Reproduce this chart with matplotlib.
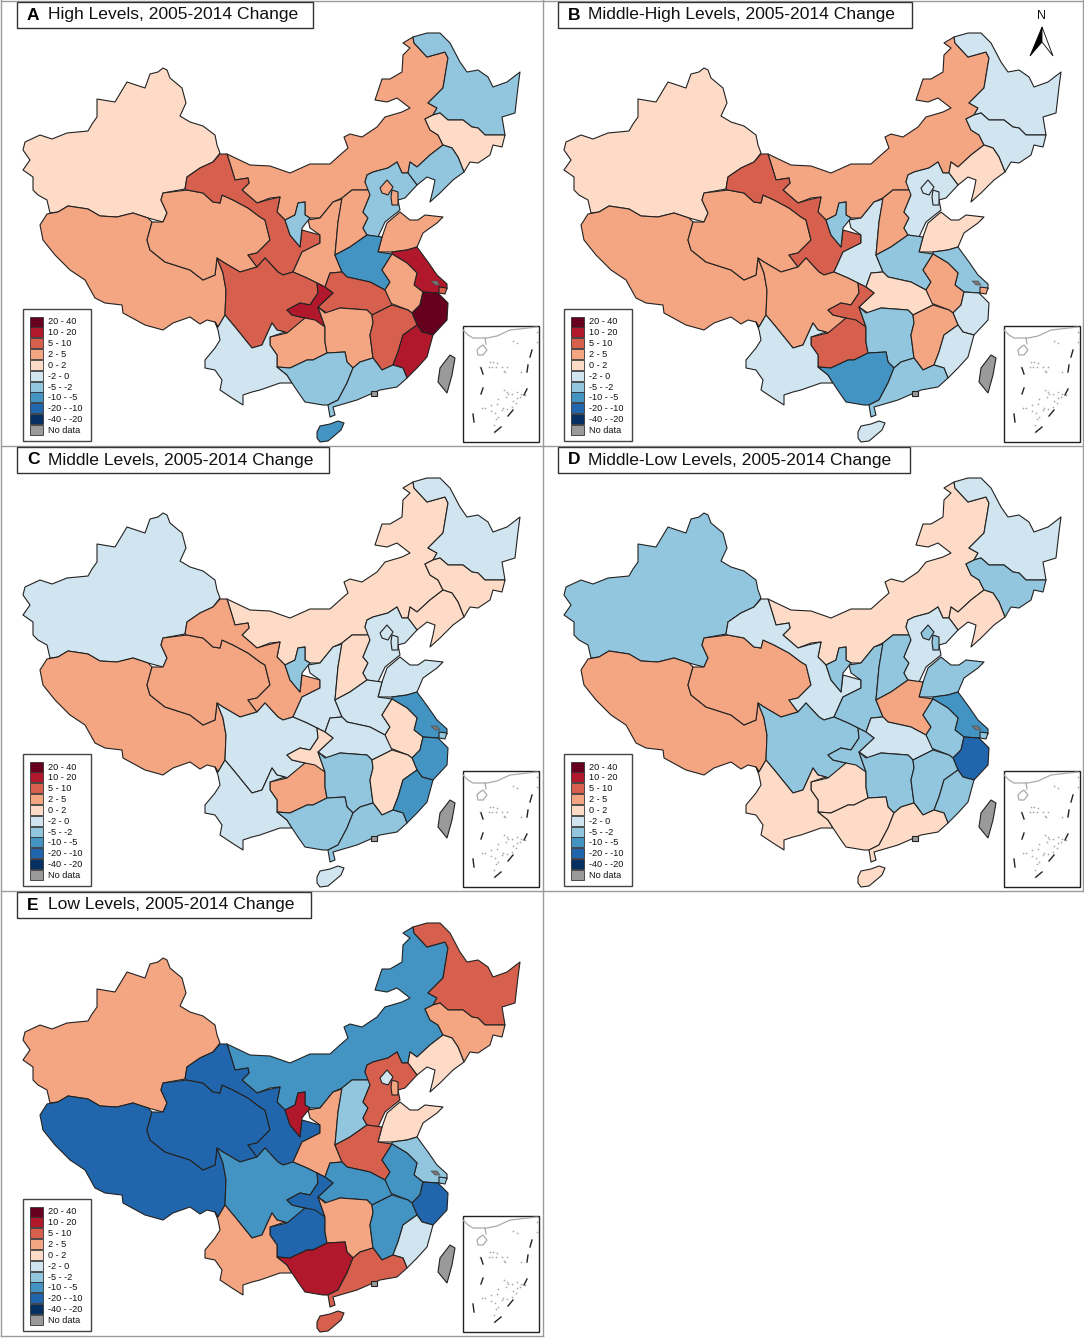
# -*- coding: utf-8 -*-
import matplotlib
matplotlib.use("Agg")

import numpy as np
import matplotlib.pyplot as plt

plt.rcParams['font.family'] = ['Liberation Sans', 'DejaVu Sans']

# Province outlines in pixels of panel A
xinjiang = [(163,68),(167,70),(170,78),(176,83),(182,88),(186,103),(180,116),(190,122),(203,126),(215,135),(217,145),(220,153),(213,162),(200,168),(187,177),(185,189),(163,193),(161,200),(167,213),(163,222),(148,218),(133,213),(117,217),(100,216),(88,209),(68,206),(58,212),(50,213),(47,200),(38,195),(33,190),(33,177),(23,170),(30,160),(23,150),(25,142),(40,135),(52,139),(67,133),(88,131),(92,124),(97,117),(97,99),(115,102),(127,82),(145,88),(150,74),(158,72)]
tibet = [(47,214),(58,212),(68,206),(88,209),(100,216),(117,217),(133,213),(148,218),(152,222),(147,240),(150,250),(165,262),(190,270),(203,280),(215,275),(217,258),(223,273),(226,290),(225,315),(218,327),(215,322),(207,320),(200,324),(190,317),(173,323),(163,330),(145,325),(123,313),(122,305),(105,303),(95,298),(85,280),(70,270),(55,255),(43,240),(40,225)]
qinghai = [(161,200),(163,193),(187,190),(203,193),(213,202),(220,203),(222,195),(233,200),(248,208),(260,217),(265,220),(270,240),(257,253),(248,255),(257,267),(240,272),(223,262),(217,258),(215,275),(203,280),(190,270),(165,262),(150,250),(147,240),(152,222),(163,222),(167,213)]
gansu = [(220,154),(227,154),(232,170),(235,180),(248,178),(249,183),(242,190),(257,203),(267,200),(280,197),(277,212),(285,220),(290,235),(300,247),(302,230),(320,235),(320,243),(302,252),(293,272),(283,275),(278,272),(265,258),(257,267),(248,255),(257,253),(270,240),(265,220),(260,217),(248,208),(233,200),(222,195),(220,203),(213,202),(203,193),(187,190),(185,189),(187,177),(200,168),(213,162)]
neimenggu = [(227,154),(250,165),(270,166),(290,173),(310,164),(330,164),(340,155),(348,148),(344,137),(350,134),(362,137),(377,127),(385,117),(402,112),(410,108),(397,98),(387,102),(375,100),(382,79),(390,79),(402,72),(403,55),(410,48),(403,43),(413,37),(414,43),(427,57),(445,52),(448,58),(443,88),(428,103),(437,108),(433,115),(425,119),(430,130),(438,135),(443,145),(430,155),(417,167),(410,162),(408,173),(402,173),(397,162),(388,168),(373,172),(367,175),(365,182),(370,190),(352,190),(342,198),(333,202),(320,218),(310,218),(305,215),(305,202),(298,203),(295,215),(285,220),(277,212),(280,197),(270,198),(257,203),(242,190),(249,183),(248,178),(235,180),(232,170)]
heilongjiang = [(413,37),(427,33),(440,33),(450,43),(460,62),(467,72),(478,70),(488,77),(493,87),(507,82),(520,72),(518,87),(515,113),(502,117),(505,135),(485,135),(478,128),(472,127),(463,120),(448,120),(440,113),(433,115),(437,108),(428,103),(443,88),(448,58),(445,52),(427,57),(414,43)]
jilin = [(433,115),(440,113),(448,120),(463,120),(472,127),(478,128),(485,135),(505,135),(502,147),(493,145),(490,155),(478,163),(470,162),(464,172),(458,157),(452,148),(443,145),(438,135),(430,130),(425,119)]
liaoning = [(443,145),(452,148),(458,157),(464,172),(453,180),(440,193),(430,202),(433,190),(435,180),(427,177),(417,185),(408,173),(410,162),(417,167),(430,155)]
hebei = [(367,175),(373,172),(388,168),(397,162),(402,173),(408,173),(417,185),(405,198),(398,200),(400,210),(385,222),(378,237),(367,235),(363,228),(368,218),(363,212),(370,195),(365,182)]
beijing = [(387,180),(393,187),(388,195),(382,193),(380,188)]
tianjin = [(392,190),(398,192),(398,205),(392,205),(391,197)]
shanxi = [(352,190),(370,190),(370,195),(363,212),(368,218),(363,228),(367,235),(350,247),(335,255),(338,222),(342,198)]
shaanxi = [(342,199),(333,202),(320,218),(308,220),(310,228),(320,235),(320,243),(302,252),(293,272),(307,278),(317,283),(325,287),(330,273),(342,272),(335,255),(338,222)]
ningxia = [(298,203),(305,202),(305,215),(310,218),(302,228),(300,247),(290,235),(285,220),(295,215)]
shandong = [(378,252),(382,237),(387,223),(400,212),(410,220),(418,220),(425,215),(443,217),(437,223),(423,233),(417,247),(407,250),(392,252)]
henan = [(335,255),(350,247),(367,235),(382,237),(378,252),(392,254),(382,270),(390,282),(385,290),(370,282),(347,277),(342,272)]
jiangsu = [(392,252),(407,250),(417,247),(428,262),(437,275),(447,284),(447,289),(438,293),(423,292),(414,285),(417,273),(407,263),(392,254)]
shanghai = [(439,287),(447,288),(445,294),(439,293)]
taihu = [(431,281),(437,281),(440,285),(435,285)]
zhejiang = [(423,292),(438,293),(448,303),(447,320),(433,335),(422,332),(417,325),(412,313),(420,305)]
anhui = [(392,254),(407,263),(417,273),(414,285),(423,292),(420,305),(412,313),(408,310),(390,303),(385,290),(390,282),(382,270)]
hubei = [(330,273),(342,272),(347,277),(370,282),(385,290),(392,305),(372,315),(367,310),(340,308),(327,313),(318,307),(333,293),(325,287)]
chongqing = [(317,283),(325,287),(333,293),(318,307),(325,327),(305,318),(292,315),(287,310),(300,303),(310,305),(318,293)]
sichuan = [(217,258),(223,262),(240,272),(257,267),(265,258),(278,272),(283,275),(293,272),(307,278),(317,283),(318,293),(310,305),(300,303),(287,310),(292,315),(305,318),(297,327),(287,333),(285,332),(277,330),(272,323),(262,345),(252,348),(235,327),(225,315),(226,290),(223,273)]
guizhou = [(270,345),(270,337),(287,333),(293,328),(305,318),(315,320),(325,327),(325,342),(327,353),(313,360),(307,360),(290,368),(277,367),(277,355)]
hunan = [(325,313),(340,308),(367,310),(372,315),(373,323),(370,335),(373,358),(360,362),(353,368),(347,362),(345,352),(327,353),(325,342),(325,327),(318,307)]
jiangxi = [(372,315),(392,305),(408,310),(412,313),(417,325),(403,335),(398,352),(393,365),(382,370),(377,363),(373,358),(370,335),(373,323)]
fujian = [(417,325),(422,332),(433,335),(427,357),(417,368),(407,378),(403,368),(393,365),(398,352),(403,335)]
guangdong = [(353,368),(360,362),(373,358),(382,370),(393,365),(403,368),(407,378),(397,387),(380,390),(357,400),(333,407),(335,415),(330,417),(328,405),(338,400),(347,383)]
guangxi = [(277,367),(290,368),(307,360),(313,360),(327,353),(345,352),(347,362),(353,368),(347,383),(338,400),(328,405),(323,405),(305,402),(298,392),(292,383),(287,375)]
yunnan = [(215,322),(218,327),(225,315),(235,327),(252,348),(262,345),(272,323),(277,330),(285,332),(270,337),(270,345),(277,355),(277,367),(287,375),(292,383),(280,383),(260,390),(252,392),(243,395),(243,405),(232,398),(220,390),(222,380),(215,370),(205,368),(205,360),(215,348),(220,340),(218,330)]
hainan = [(317,432),(320,426),(330,424),(338,421),(344,423),(341,430),(334,436),(328,441),(320,442),(317,438)]
taiwan = [(450,355),(455,358),(452,375),(447,393),(438,382),(440,368)]
macau = [(371,391),(377,391),(377,396),(371,396)]

provinces = {
    "xinjiang": xinjiang, "tibet": tibet, "qinghai": qinghai, "neimenggu": neimenggu,
    "gansu": gansu, "heilongjiang": heilongjiang, "jilin": jilin, "liaoning": liaoning,
    "shaanxi": shaanxi, "ningxia": ningxia, "shanxi": shanxi, "hebei": hebei,
    "beijing": beijing, "tianjin": tianjin, "shandong": shandong, "henan": henan,
    "jiangsu": jiangsu, "anhui": anhui, "zhejiang": zhejiang, "shanghai": shanghai,
    "hubei": hubei, "sichuan": sichuan, "chongqing": chongqing, "guizhou": guizhou,
    "hunan": hunan, "jiangxi": jiangxi, "fujian": fujian, "yunnan": yunnan,
    "guangxi": guangxi, "guangdong": guangdong, "hainan": hainan,
}

# Legend classes, top to bottom
classes = ["20 - 40", "10 - 20", "5 - 10", "2 - 5", "0 - 2", "-2 - 0", "-5 - -2",
           "-10 - -5", "-20 - -10", "-40 - -20", "No data"]
colors = ["#67001f", "#b2182b", "#d6604d", "#f4a582", "#fddbc7", "#d1e5f0", "#92c5de",
          "#4393c3", "#2166ac", "#053061", "#9a9a9a"]

# Class of each province per panel
panel_a = {"xinjiang": "0 - 2", "tibet": "2 - 5", "qinghai": "2 - 5", "neimenggu": "2 - 5", "gansu": "5 - 10",
           "heilongjiang": "-5 - -2", "jilin": "0 - 2", "liaoning": "-5 - -2", "shaanxi": "2 - 5", "ningxia": "-5 - -2",
           "shanxi": "2 - 5", "hebei": "-5 - -2", "beijing": "2 - 5", "tianjin": "2 - 5", "shandong": "2 - 5",
           "henan": "-10 - -5", "jiangsu": "10 - 20", "anhui": "2 - 5", "zhejiang": "20 - 40", "shanghai": "5 - 10",
           "hubei": "5 - 10", "sichuan": "5 - 10", "chongqing": "10 - 20", "guizhou": "2 - 5", "hunan": "2 - 5",
           "jiangxi": "5 - 10", "fujian": "10 - 20", "yunnan": "-2 - 0", "guangxi": "-5 - -2", "guangdong": "-5 - -2",
           "hainan": "-10 - -5"}
panel_b = {"xinjiang": "0 - 2", "tibet": "2 - 5", "qinghai": "2 - 5", "neimenggu": "2 - 5", "gansu": "5 - 10",
           "heilongjiang": "-2 - 0", "jilin": "-2 - 0", "liaoning": "0 - 2", "shaanxi": "-2 - 0", "ningxia": "-5 - -2",
           "shanxi": "2 - 5", "hebei": "-2 - 0", "beijing": "-2 - 0", "tianjin": "-2 - 0", "shandong": "0 - 2",
           "henan": "-5 - -2", "jiangsu": "-5 - -2", "anhui": "2 - 5", "zhejiang": "-2 - 0", "shanghai": "2 - 5",
           "hubei": "0 - 2", "sichuan": "2 - 5", "chongqing": "5 - 10", "guizhou": "5 - 10", "hunan": "-5 - -2",
           "jiangxi": "2 - 5", "fujian": "-2 - 0", "yunnan": "-2 - 0", "guangxi": "-10 - -5", "guangdong": "-5 - -2",
           "hainan": "-2 - 0"}
panel_c = {"xinjiang": "-2 - 0", "tibet": "2 - 5", "qinghai": "2 - 5", "neimenggu": "0 - 2", "gansu": "2 - 5",
           "heilongjiang": "-2 - 0", "jilin": "0 - 2", "liaoning": "0 - 2", "shaanxi": "-2 - 0", "ningxia": "-5 - -2",
           "shanxi": "0 - 2", "hebei": "-2 - 0", "beijing": "-2 - 0", "tianjin": "-2 - 0", "shandong": "-2 - 0",
           "henan": "-2 - 0", "jiangsu": "-10 - -5", "anhui": "0 - 2", "zhejiang": "-10 - -5", "shanghai": "-5 - -2",
           "hubei": "-2 - 0", "sichuan": "-2 - 0", "chongqing": "0 - 2", "guizhou": "2 - 5", "hunan": "-5 - -2",
           "jiangxi": "0 - 2", "fujian": "-10 - -5", "yunnan": "-2 - 0", "guangxi": "-5 - -2", "guangdong": "-5 - -2",
           "hainan": "-2 - 0"}
panel_d = {"xinjiang": "-5 - -2", "tibet": "2 - 5", "qinghai": "2 - 5", "neimenggu": "0 - 2", "gansu": "-2 - 0",
           "heilongjiang": "-2 - 0", "jilin": "-5 - -2", "liaoning": "0 - 2", "shaanxi": "-5 - -2", "ningxia": "-5 - -2",
           "shanxi": "-5 - -2", "hebei": "-2 - 0", "beijing": "-5 - -2", "tianjin": "-5 - -2", "shandong": "-5 - -2",
           "henan": "2 - 5", "jiangsu": "-10 - -5", "anhui": "-5 - -2", "zhejiang": "-20 - -10", "shanghai": "-5 - -2",
           "hubei": "-2 - 0", "sichuan": "-5 - -2", "chongqing": "-5 - -2", "guizhou": "0 - 2", "hunan": "-5 - -2",
           "jiangxi": "-5 - -2", "fujian": "-5 - -2", "yunnan": "0 - 2", "guangxi": "0 - 2", "guangdong": "0 - 2",
           "hainan": "0 - 2"}
panel_e = {"xinjiang": "2 - 5", "tibet": "-20 - -10", "qinghai": "-20 - -10", "neimenggu": "-10 - -5", "gansu": "-20 - -10",
           "heilongjiang": "5 - 10", "jilin": "2 - 5", "liaoning": "0 - 2", "shaanxi": "2 - 5", "ningxia": "10 - 20",
           "shanxi": "-5 - -2", "hebei": "5 - 10", "beijing": "-2 - 0", "tianjin": "2 - 5", "shandong": "0 - 2",
           "henan": "5 - 10", "jiangsu": "-5 - -2", "anhui": "-10 - -5", "zhejiang": "-20 - -10", "shanghai": "-5 - -2",
           "hubei": "-10 - -5", "sichuan": "-10 - -5", "chongqing": "-20 - -10", "guizhou": "-20 - -10", "hunan": "2 - 5",
           "jiangxi": "-10 - -5", "fujian": "-2 - 0", "yunnan": "2 - 5", "guangxi": "10 - 20", "guangdong": "5 - 10",
           "hainan": "5 - 10"}

# South China Sea inset, pixels inside the panel
inset_coast = [(463,330),(468,335),(473,338),(487,338),(497,336),(510,330),(537,327)]
inset_link = [(485,338),(486,344)]
inset_loop = [(483,345),(487,350),(483,355),(478,355),(477,350),(480,347)]
inset_dashes = [((481,368),(483,374)), ((532,350),(530,357)), ((528,365),(527,372)),
                ((483,388),(481,394)), ((527,389),(524,395)), ((513,410),(508,416)),
                ((473,414),(474,422)), ((501,427),(495,432))]
inset_dots_x = [480,490,493,497,489,492,496,502,507,504,505,521,513,517,537,537,504,507,508,517,521,512,506,498,517,520,525,513,516,497,491,485,482,502,507,491,495,498,496,494,494,512,503]
inset_dots_y = [367,362,362,363,367,367,367,367,367,371,372,372,341,343,332,342,390,392,394,392,394,394,397,399,398,397,395,401,403,404,405,408,408,410,409,411,413,417,419,425,432,407,408]

panel_titles = [
    ("A", "High Levels, 2005-2014 Change", 0, 0, 17, 313, panel_a),
    ("B", "Middle-High Levels, 2005-2014 Change", 541, 0, 558, 912, panel_b),
    ("C", "Middle Levels, 2005-2014 Change", 0, 445, 17, 329, panel_c),
    ("D", "Middle-Low Levels, 2005-2014 Change", 541, 445, 558, 910, panel_d),
    ("E", "Low Levels, 2005-2014 Change", 0, 890, 17, 311, panel_e),
]


def shifted(points, dx, dy):
    arr = np.array(points, dtype=float)
    return arr[:, 0] + dx, arr[:, 1] + dy


fig = plt.figure(figsize=(10.84, 13.38), dpi=100)
ax = fig.add_axes([0, 0, 1, 1])
ax.set_xlim(0, 1084)
ax.set_ylim(1338, 0)
ax.axis("off")

class_color = dict(zip(classes, colors))
edge = "#222222"

# panel frame lines
frame = "#9a9a9a"
ax.plot([1, 1], [0, 1336], color=frame, lw=1, zorder=1)
ax.plot([542.5, 542.5], [0, 1336], color=frame, lw=1, zorder=1)
ax.plot([1083, 1083], [0, 891], color=frame, lw=1, zorder=1)
for level in (0.5, 446, 891, 1336):
    ax.plot([1, 1084 if level < 1000 else 542.5], [level, level], color=frame, lw=1, zorder=1)

for letter, title, dx, dy, box_left, box_right, values in panel_titles:
    # map
    for name, outline in provinces.items():
        x, y = shifted(outline, dx, dy)
        ax.fill(x, y, fc=class_color[values[name]], ec=edge, lw=0.8, joinstyle="round", zorder=2)
    x, y = shifted(taihu, dx, dy)
    ax.fill(x, y, fc="#777777", ec="#444444", lw=0.4, zorder=2)
    for outline in (taiwan, macau):
        x, y = shifted(outline, dx, dy)
        ax.fill(x, y, fc="#9a9a9a", ec=edge, lw=0.8, zorder=2)

    # title box
    ax.add_patch(plt.Rectangle((box_left, dy + 1.5), box_right - box_left, 26, fc="white", ec="#333333", lw=1, zorder=3))
    ax.text(box_left + 10, dy + 15, letter, fontsize=12.5, fontweight="bold", va="center", zorder=4)
    ax.text(box_left + 30.5, dy + 15, title, fontsize=12.6, va="center", color="#111111", zorder=4)

    # legend
    ax.add_patch(plt.Rectangle((dx + 22.5, dy + 308.5), 68.5, 132.5, fc="white", ec="#444444", lw=1, zorder=3))
    for i, label in enumerate(classes):
        row = dy + 321.5 + i * 10.85
        ax.add_patch(plt.Rectangle((dx + 29.5, row - 5), 13.5, 10, fc=class_color[label], ec="#333333", lw=0.6, zorder=4))
        ax.text(dx + 48, row + 0.5, label, fontsize=6.6, va="center", color="#111111", zorder=4)

    # inset
    ax.add_patch(plt.Rectangle((dx + 462.5, dy + 325.5), 76, 116.5, fc="white", ec="#222222", lw=1, zorder=3))
    for part in (inset_coast, inset_link):
        x, y = shifted(part, dx, dy)
        ax.plot(x, y, color="#aaaaaa", lw=0.9, zorder=4)
    x, y = shifted(inset_loop, dx, dy)
    ax.fill(x, y, fc="white", ec="#aaaaaa", lw=0.9, zorder=4)
    ax.scatter(np.array(inset_dots_x) + dx, np.array(inset_dots_y) + dy, s=1.6, color="#aaaaaa", lw=0, zorder=4)
    for start, end in inset_dashes:
        ax.plot([start[0] + dx, end[0] + dx], [start[1] + dy, end[1] + dy], color="#222222", lw=1, zorder=4)

# north arrow in panel B
ax.text(1041, 16, "N", fontsize=9, ha="center", va="center", color="#111111", zorder=5)
ax.fill([1042, 1030, 1042], [27, 56, 42], fc="black", ec="black", lw=0.6, zorder=5)
ax.fill([1042, 1053, 1042], [27, 56, 42], fc="white", ec="black", lw=0.6, zorder=5)

fig.savefig("out.png", dpi=100)
